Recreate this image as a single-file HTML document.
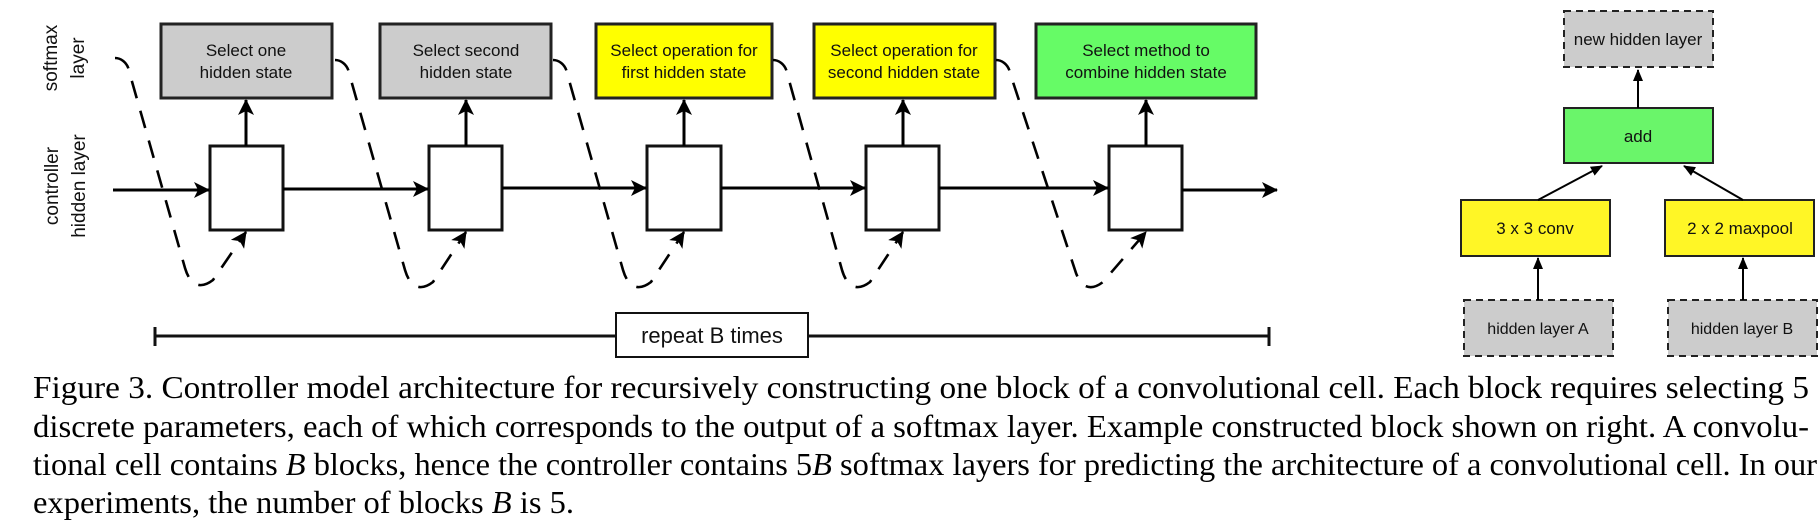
<!DOCTYPE html>
<html><head><meta charset="utf-8"><style>
html,body{margin:0;padding:0;background:#fff;}
svg{display:block;}
.box{font-family:"Liberation Sans",sans-serif;font-size:17px;fill:#111;}
</style></head><body>
<svg width="1818" height="523" viewBox="0 0 1818 523" xmlns="http://www.w3.org/2000/svg">
<defs>
<marker id="ah" markerWidth="10" markerHeight="10" refX="9" refY="5" orient="auto" markerUnits="userSpaceOnUse" viewBox="0 0 10 10">
<path d="M0,0 L10,5 L0,10 L3,5 Z" fill="#000"/>
</marker>
<marker id="ahb" markerWidth="16" markerHeight="16" refX="15" refY="8" orient="auto" markerUnits="userSpaceOnUse" viewBox="0 0 16 16">
<path d="M0,0 L16,8 L0,16 L4,8 Z" fill="#000"/>
</marker>
<marker id="ahs" markerWidth="12" markerHeight="12" refX="11" refY="6" orient="auto" markerUnits="userSpaceOnUse" viewBox="0 0 12 12">
<path d="M0,1 L12,6 L0,11 Z" fill="#000"/>
</marker>
</defs>

<!-- side labels -->
<g font-family="Liberation Sans, sans-serif" font-size="19" fill="#111" text-anchor="middle">
<text transform="translate(57,58) rotate(-90)">softmax</text>
<text transform="translate(84,58) rotate(-90)">layer</text>
<text transform="translate(58,186) rotate(-90)">controller</text>
<text transform="translate(85,186) rotate(-90)">hidden layer</text>
</g>

<!-- softmax boxes -->
<g stroke="#222" stroke-width="3">
<rect x="161" y="24" width="171" height="74" fill="#cccccc"/>
<rect x="380" y="24" width="171" height="74" fill="#cccccc"/>
<rect x="596" y="24" width="176" height="74" fill="#ffff00"/>
<rect x="814" y="24" width="181" height="74" fill="#ffff00"/>
<rect x="1036" y="24" width="220" height="74" fill="#66fb66"/>
</g>
<g class="box" text-anchor="middle">
<text x="246" y="56">Select one</text><text x="246" y="78">hidden state</text>
<text x="466" y="56">Select second</text><text x="466" y="78">hidden state</text>
<text x="684" y="56">Select operation for</text><text x="684" y="78">first hidden state</text>
<text x="904" y="56">Select operation for</text><text x="904" y="78">second hidden state</text>
<text x="1146" y="56">Select method to</text><text x="1146" y="78">combine hidden state</text>
</g>

<!-- hidden boxes -->
<g stroke="#111" stroke-width="3" fill="#fff">
<rect x="210" y="146" width="73" height="84"/>
<rect x="429" y="146" width="73" height="84"/>
<rect x="647" y="146" width="74" height="84"/>
<rect x="866" y="146" width="73" height="84"/>
<rect x="1109" y="146" width="73" height="84"/>
</g>

<!-- vertical arrows -->
<g stroke="#000" stroke-width="3" marker-end="url(#ahb)">
<line x1="246" y1="146" x2="246" y2="100"/>
<line x1="466" y1="146" x2="466" y2="100"/>
<line x1="684" y1="146" x2="684" y2="100"/>
<line x1="903" y1="146" x2="903" y2="100"/>
<line x1="1146" y1="146" x2="1146" y2="100"/>
</g>

<!-- main horizontal arrows -->
<g stroke="#000" stroke-width="3" marker-end="url(#ahb)">
<line x1="113" y1="190" x2="209" y2="190"/>
<line x1="283" y1="189" x2="428" y2="189"/>
<line x1="502" y1="188" x2="646" y2="188"/>
<line x1="721" y1="188" x2="865" y2="188"/>
<line x1="939" y1="188" x2="1108" y2="188"/>
<line x1="1182" y1="190" x2="1277" y2="190"/>
</g>

<!-- dashed recurrent curves -->
<g fill="none" stroke="#000" stroke-width="2.6" stroke-dasharray="18 13" marker-end="url(#ahb)">
<path d="M115,58 C122,58 128,64 129,71 L185,268 C190,285 200,290 213,280 L246,232"/>
<path d="M335,60 C342,60 348,66 349,73 L405,270 C410,287 420,292 433,282 L466,232"/>
<path d="M553,60 C560,60 566,66 567,73 L623,270 C628,287 638,292 651,282 L684,232"/>
<path d="M773,60 C780,60 786,66 787,73 L842,270 C847,287 857,292 870,282 L903,232"/>
<path d="M996,60 C1003,60 1009,66 1010,73 L1075,270 C1080,287 1090,292 1103,282 L1146,232"/>
</g>

<!-- repeat bar -->
<g stroke="#111" stroke-width="3">
<line x1="155" y1="336" x2="616" y2="336"/>
<line x1="808" y1="336" x2="1269" y2="336"/>
<line x1="155" y1="327" x2="155" y2="346"/>
<line x1="1269" y1="327" x2="1269" y2="346"/>
<rect x="616" y="313" width="192" height="44" fill="#fff" stroke-width="2"/>
</g>
<text x="712" y="343" text-anchor="middle" font-family="Liberation Sans, sans-serif" font-size="22" fill="#111">repeat B times</text>

<!-- right example block -->
<g stroke="#222" stroke-width="2">
<rect x="1564" y="11" width="149" height="56" fill="#cccccc" stroke-dasharray="7 5"/>
<rect x="1564" y="108" width="149" height="55" fill="#6af56a"/>
<rect x="1461" y="200" width="149" height="56" fill="#fff626"/>
<rect x="1665" y="200" width="149" height="56" fill="#fff626"/>
<rect x="1464" y="300" width="149" height="56" fill="#cccccc" stroke-dasharray="7 5"/>
<rect x="1668" y="300" width="149" height="56" fill="#cccccc" stroke-dasharray="7 5"/>
</g>
<g stroke="#000" stroke-width="2" marker-end="url(#ahs)">
<line x1="1638" y1="108" x2="1638" y2="70"/>
<line x1="1538" y1="200" x2="1602" y2="166"/>
<line x1="1743" y1="200" x2="1684" y2="166"/>
<line x1="1538" y1="300" x2="1538" y2="258"/>
<line x1="1743" y1="300" x2="1743" y2="258"/>
</g>
<g class="box" text-anchor="middle">
<text x="1638" y="45">new hidden layer</text>
<text x="1638" y="142">add</text>
<text x="1535" y="234">3 x 3 conv</text>
<text x="1740" y="234">2 x 2 maxpool</text>
<text x="1538" y="334" font-size="16">hidden layer A</text>
<text x="1742" y="334" font-size="16">hidden layer B</text>
</g>

<!-- caption -->
<g font-family="Liberation Serif, serif" font-size="32" fill="#000">
<text x="33" y="398" textLength="1776" lengthAdjust="spacingAndGlyphs">Figure 3. Controller model architecture for recursively constructing one block of a convolutional cell.  Each block requires selecting 5</text>
<text x="33" y="437" textLength="1776" lengthAdjust="spacingAndGlyphs">discrete parameters, each of which corresponds to the output of a softmax layer. Example constructed block shown on right.  A convolu-</text>
<text x="33" y="475" textLength="1784" lengthAdjust="spacingAndGlyphs">tional cell contains <tspan font-style="italic">B</tspan> blocks, hence the controller contains 5<tspan font-style="italic">B</tspan> softmax layers for predicting the architecture of a convolutional cell. In our</text>
<text x="33" y="513" textLength="541" lengthAdjust="spacingAndGlyphs">experiments, the number of blocks <tspan font-style="italic">B</tspan> is 5.</text>
</g>
</svg>
</body></html>
